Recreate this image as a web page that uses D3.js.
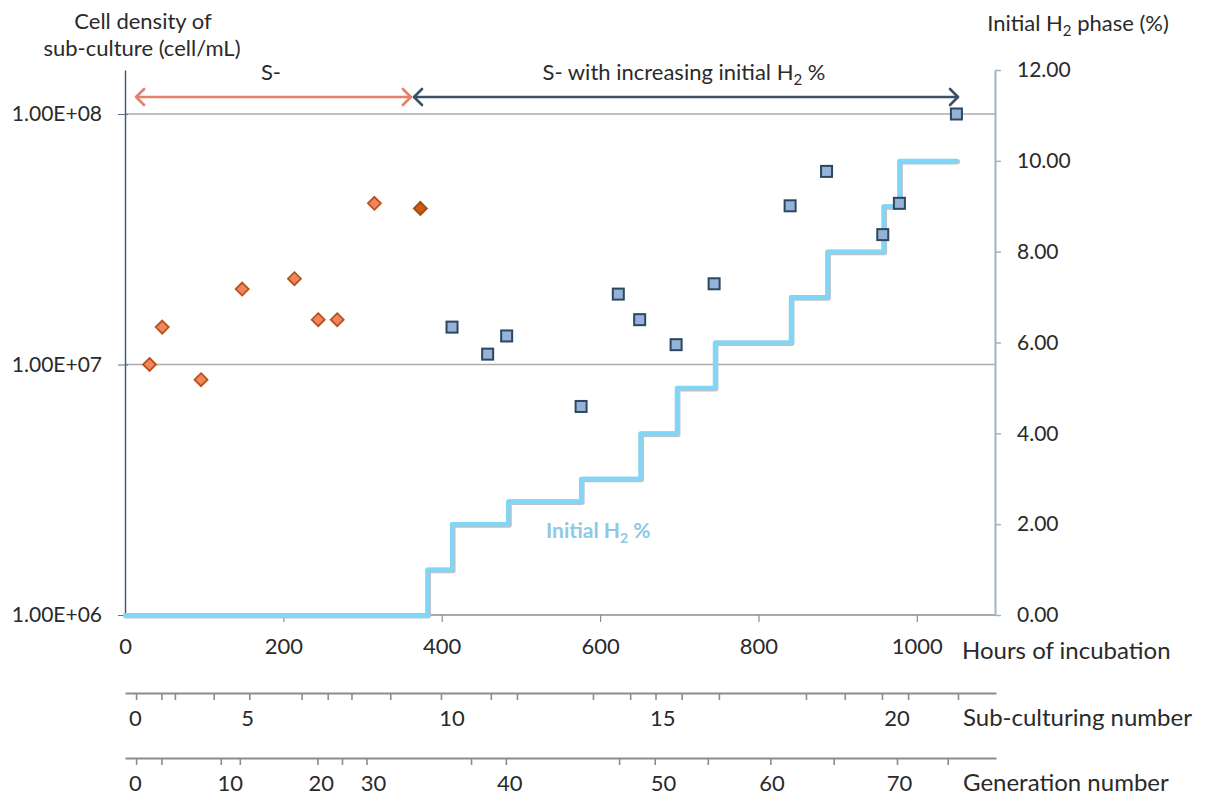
<!DOCTYPE html>
<html><head><meta charset="utf-8">
<script src="https://cdn.jsdelivr.net/npm/d3@7"></script>
<style>body{margin:0;background:#fff} text{font-family:Lato,'Open Sans',sans-serif;fill:#2a2a2a}</style>
</head><body><svg id="c" width="1209" height="798"></svg>
<script>
// ---- data ----
const s1Hours = [31, 47, 96, 148, 214, 244, 268, 315, 373];
const s1Density = [1.0e7, 1.41e7, 8.7e6, 2.0e7, 2.2e7, 1.51e7, 1.51e7, 4.4e7, 4.2e7];
const s2Hours = [413, 458, 482, 576, 623, 650, 696, 744, 840, 886, 957, 978, 1050];
const s2Density = [1.41e7, 1.1e7, 1.3e7, 6.8e6, 1.91e7, 1.51e7, 1.2e7, 2.1e7, 4.3e7, 5.9e7, 3.3e7, 4.4e7, 1.0e8];
const h2Hours = [0, 382, 413, 484, 576, 651, 697, 745, 841, 887, 958, 978, 1050];
const h2Percent = [0, 1, 2, 2.5, 3, 4, 5, 6, 7, 8, 9, 10, 10];
const hourTicks = [0, 200, 400, 600, 800, 1000];
const densityTicks = [1e6, 1e7, 1e8];
const densityLabels = ["1.00E+06", "1.00E+07", "1.00E+08"];
const h2Ticks = [0, 2, 4, 6, 8, 10, 12];
const subTickHours = [14, 46, 63, 112, 157, 223, 256, 286, 335, 399, 462, 495, 591, 638, 670, 703, 750, 860, 909, 956, 989, 1052];
const subLabelValues = [0, 5, 10, 15, 20];
const subLabelHours = [13, 155, 413, 679, 975];
const genTickHours = [14, 46, 121, 145, 243, 274, 305, 437, 481, 624, 669, 736, 815, 895, 975, 1039];
const genLabelValues = [0, 10, 20, 30, 40, 50, 60, 70];
const genLabelHours = [13, 133, 248, 314, 486, 680, 817, 978];
const phase1Span = [14, 361];
const phase2Span = [365, 1052];

// ---- scales ----
const svg = d3.select("#c");
const x = d3.scaleLinear([0, 1100], [125, 996]);
const yL = d3.scaleLog([1e6, Math.pow(10, 8 + 44 / 250.5)], [615, 70]);
const yR = d3.scaleLinear([0, 12], [615, 70]);

// gridlines
svg.append("g").selectAll("line").data([1e7, 1e8]).join("line")
  .attr("x1", 125).attr("x2", 995).attr("y1", d => yL(d)).attr("y2", d => yL(d))
  .attr("stroke", "#ababab").attr("stroke-width", 1.6);

// bottom hours axis
const gx = svg.append("g").attr("transform", "translate(0,615)")
  .call(d3.axisBottom(x).tickValues(hourTicks).tickFormat(d3.format("d")).tickSize(7).tickSizeOuter(0).tickPadding(16));
gx.select(".domain").attr("stroke", "#8c8c8c").attr("stroke-width", 1.6).attr("d", "M125,0H995");
gx.selectAll(".tick line").attr("stroke", "#8c8c8c").attr("stroke-width", 1.2).filter(d => d === 0).remove();
gx.selectAll(".tick text").attr("font-size", 22).attr("font-family", "Lato").attr("fill", "#2a2a2a");
svg.append("text").attr("x", 962).attr("y", 651).attr("dy", "0.35em").attr("font-size", 24).text("Hours of incubation");

// left axis
const gl = svg.append("g").attr("transform", "translate(125,0)")
  .call(d3.axisLeft(yL).tickValues(densityTicks).tickFormat((d, i) => densityLabels[i]).tickSize(7).tickSizeOuter(0).tickPadding(16));
gl.select(".domain").attr("stroke", "#3d5678").attr("stroke-width", 1.4);
gl.selectAll(".tick line").attr("stroke", "#5f6f86").attr("x2", -7).attr("x1", 3);
gl.selectAll(".tick text").attr("font-size", 21).attr("font-family", "Lato").attr("fill", "#2a2a2a");

// right axis
const gr = svg.append("g").attr("transform", "translate(995,0)")
  .call(d3.axisRight(yR).tickValues(h2Ticks).tickFormat(d3.format(".2f")).tickSize(6).tickSizeOuter(0).tickPadding(16));
gr.select(".domain").attr("stroke", "#9fb6c6").attr("stroke-width", 2);
gr.selectAll(".tick line").attr("stroke", "#9fb6c6").attr("stroke-width", 1.5);
gr.selectAll(".tick text").attr("font-size", 21).attr("font-family", "Lato").attr("fill", "#2a2a2a");

// H2 step line
const h2Data = h2Hours.map((h, i) => [h, h2Percent[i]]);
const stepLine = d3.line().x(d => x(d[0])).y(d => yR(d[1])).curve(d3.curveStepAfter);
svg.append("path").datum(h2Data).attr("d", stepLine).attr("fill", "none")
  .attr("stroke", "#b9c3c9").attr("stroke-width", 5.5).attr("transform", "translate(0.8,0.8)").attr("stroke-linejoin", "round").attr("stroke-linecap", "round");
svg.append("path").datum(h2Data).attr("d", stepLine).attr("fill", "none")
  .attr("stroke", "#7fd6f7").attr("stroke-width", 4.2).attr("stroke-linejoin", "round").attr("stroke-linecap", "round");

// series 1 diamonds
const diamond = "M0,-6.5L6.5,0L0,6.5L-6.5,0Z";
svg.append("g").selectAll("path").data(s1Hours).join("path")
  .attr("d", diamond)
  .attr("transform", (h, i) => `translate(${x(h)},${yL(s1Density[i])})`)
  .attr("fill", (h, i) => i === s1Hours.length - 1 ? "#c95c12" : "#f4845e")
  .attr("stroke", (h, i) => i === s1Hours.length - 1 ? "#a34a10" : "#b35419")
  .attr("stroke-width", 1.8);

// series 2 squares
svg.append("g").selectAll("rect").data(s2Hours).join("rect")
  .attr("x", h => x(h) - 5.5).attr("width", 11).attr("height", 11)
  .attr("y", (h, i) => yL(s2Density[i]) - 5.5)
  .attr("fill", "#95b3d7").attr("stroke", "#2b4762").attr("stroke-width", 2);

// line label
const lt = svg.append("text").attr("x", 546).attr("y", 531).attr("dy", "0.35em")
  .attr("font-size", 21).attr("font-weight", "bold").style("fill", "#8fc8e4");
lt.append("tspan").text("Initial H");
lt.append("tspan").attr("font-size", 14).attr("dy", 5).text("2");
lt.append("tspan").attr("dy", -5).text(" %");

// titles
svg.append("text").attr("x", 143).attr("y", 21).attr("dy", "0.35em").attr("text-anchor", "middle").attr("font-size", 22).text("Cell density of");
svg.append("text").attr("x", 142).attr("y", 48).attr("dy", "0.35em").attr("text-anchor", "middle").attr("font-size", 22).text("sub-culture (cell/mL)");
const rt = svg.append("text").attr("x", 1078).attr("y", 23).attr("dy", "0.35em").attr("text-anchor", "middle").attr("font-size", 22);
rt.append("tspan").text("Initial H");
rt.append("tspan").attr("font-size", 15).attr("dy", 5).text("2");
rt.append("tspan").attr("dy", -5).text(" phase (%)");

// phase arrows
function arrow(span, color) {
  const a = x(span[0]), b = x(span[1]), y = 97;
  const g = svg.append("g").attr("fill", "none").attr("stroke", color).attr("stroke-width", 2.6).attr("stroke-linecap", "round").attr("stroke-linejoin", "round");
  g.append("line").attr("x1", a).attr("x2", b).attr("y1", y).attr("y2", y);
  g.append("path").attr("d", `M${a + 8},${y - 8}L${a},${y}L${a + 8},${y + 8}`);
  g.append("path").attr("d", `M${b - 8},${y - 8}L${b},${y}L${b - 8},${y + 8}`);
}
arrow(phase1Span, "#e5806b");
arrow(phase2Span, "#3d5167");
svg.append("text").attr("x", 271).attr("y", 72).attr("dy", "0.35em").attr("text-anchor", "middle").attr("font-size", 22).text("S-");
const t2 = svg.append("text").attr("x", 684).attr("y", 72).attr("dy", "0.35em").attr("text-anchor", "middle").attr("font-size", 22);
t2.append("tspan").text("S- with increasing initial H");
t2.append("tspan").attr("font-size", 15).attr("dy", 5).text("2");
t2.append("tspan").attr("dy", -5).text(" %");

// extra bottom axes
function extraAxis(yPos, tickHours, labHours, labVals, title) {
  const g = svg.append("g").attr("transform", `translate(0,${yPos})`)
    .call(d3.axisBottom(x).tickValues(tickHours).tickFormat("").tickSize(7).tickSizeOuter(0));
  g.select(".domain").attr("stroke", "#8c8c8c").attr("stroke-width", 2.2);
  g.selectAll(".tick line").attr("stroke", "#8c8c8c").attr("stroke-width", 1.6);
  svg.append("g").selectAll("text").data(labVals).join("text")
    .attr("x", (v, i) => x(labHours[i])).attr("y", yPos + 25).attr("dy", "0.35em")
    .attr("text-anchor", "middle").attr("font-size", 22).text(v => v);
  svg.append("text").attr("x", 963).attr("y", yPos + 25).attr("dy", "0.35em").attr("font-size", 24).text(title);
}
extraAxis(693, subTickHours, subLabelHours, subLabelValues, "Sub-culturing number");
extraAxis(758, genTickHours, genLabelHours, genLabelValues, "Generation number");
</script></body></html>
